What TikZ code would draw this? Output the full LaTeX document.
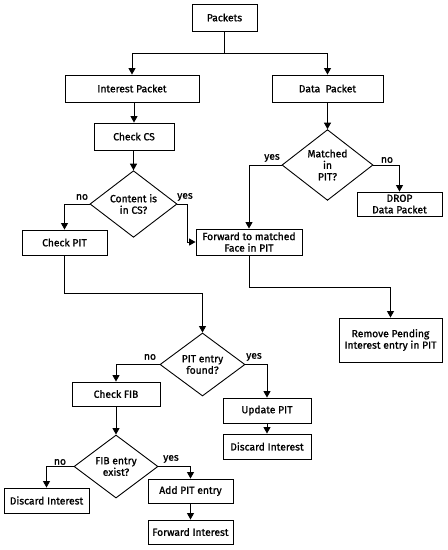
\documentclass[tikz,border=0pt]{standalone}
\usepackage{fontspec}
\setmainfont{Fira Sans}[FakeBold=1.2]
\usetikzlibrary{shapes.geometric,arrows.meta}
\begin{document}
\begin{tikzpicture}[x=1pt,y=-1pt,
  every node/.style={font=\fontsize{10.3}{11.5}\selectfont},
  box/.style={draw,line width=0.9pt,rectangle,inner sep=1pt,align=center},
  dia/.style={draw,line width=0.9pt,diamond,inner sep=0pt,align=center},
  arr/.style={draw,line width=0.9pt,-{Triangle[width=7pt,length=6.5pt]}},
  ln/.style={draw,line width=0.9pt},
  lbl/.style={inner sep=1pt}]
\useasboundingbox (0,0) rectangle (448,550);
% boxes
\node[box,minimum width=65pt,minimum height=27pt] (pk) at (224.5,17.5) {Packets};
\node[box,minimum width=134pt,minimum height=27pt] (ip) at (132,88.5) {Interest Packet};
\node[box,minimum width=111pt,minimum height=27pt] (dp) at (327.5,88.5) {Data~ Packet};
\node[box,minimum width=80pt,minimum height=27pt] (ccs) at (134,136.5) {Check CS};
\node[dia,minimum width=87pt,minimum height=62pt] (cs) at (133.5,204) {Content is\\in CS?};
\node[box,minimum width=85pt,minimum height=25pt] (cpit) at (64.5,242.5) {Check PIT};
\node[box,minimum width=106pt,minimum height=26pt,inner sep=0pt] (fw) at (249,242) {Forward to matched\\Face in PIT};
\node[dia,minimum width=91pt,minimum height=64pt] (mp) at (327.5,165) {Matched\\in\\PIT?};
\node[box,minimum width=85pt,minimum height=24pt,inner sep=0pt] (drop) at (399.5,204) {DROP\\Data Packet};
\node[box,minimum width=103pt,minimum height=44pt] (rm) at (390.5,340) {Remove Pending\\Interest entry in PIT};
\node[dia,minimum width=85pt,minimum height=63pt] (pd) at (202.5,364.5) {PIT entry\\found?};
\node[box,minimum width=88pt,minimum height=24pt] (fib) at (116,394) {Check FIB};
\node[box,minimum width=88pt,minimum height=25pt] (up) at (267,410.5) {Update PIT};
\node[box,minimum width=88pt,minimum height=25pt] (dr) at (267,446.5) {Discard Interest};
\node[dia,minimum width=84pt,minimum height=63pt] (fd) at (116,466.5) {FIB entry\\exist?};
\node[box,minimum width=85pt,minimum height=25pt] (dl) at (46.5,500.5) {Discard Interest};
\node[box,minimum width=85pt,minimum height=24pt] (ap) at (190.5,491) {Add PIT entry};
\node[box,minimum width=85pt,minimum height=24pt] (fi) at (190.5,532) {Forward Interest};
% connectors
\coordinate (split) at (224.5,53);
\draw[ln] (pk.south) -- (split);
\draw[arr] (split) -| (ip.north);
\draw[arr] (split) -| (dp.north);
\draw[arr] (ip.south -| ccs.north) -- (ccs.north);
\draw[arr] (ccs.south -| cs.north) -- (cs.north);
\draw[arr] (cs.west) -| (cpit.north);
\draw[arr] (cs.east) -- ++(10,0) |- (fw.west);
\draw[arr] (dp.south) -- (mp.north);
\draw[arr] (mp.west) -| (fw.north);
\draw[arr] (mp.east) -| (drop.north);
\draw[arr] (fw.south) -- ++(0,32) -| (rm.north);
\draw[arr] (cpit.south) -- ++(0,38) -| (pd.north);
\draw[arr] (pd.west) -| (fib.north);
\draw[arr] (pd.east) -| (up.north);
\draw[arr] (up.south) -- (dr.north);
\draw[arr] (fib.south) -- (fd.north);
\draw[arr] (fd.west) -| (dl.north);
\draw[arr] (fd.east) -| (ap.north);
\draw[arr] (ap.south) -- (fi.north);
% labels
\node[lbl] (l1) at (82,197) {no};
\node[lbl] (l2) at (185,197) {yes};
\node[lbl] (l3) at (272,158) {yes};
\node[lbl] (l4) at (387,160) {no};
\node[lbl] (l5) at (150,357) {no};
\node[lbl] (l6) at (254,357) {yes};
\node[lbl] (l7) at (60,462) {no};
\node[lbl] (l8) at (171,459) {yes};
\end{tikzpicture}
\end{document}
